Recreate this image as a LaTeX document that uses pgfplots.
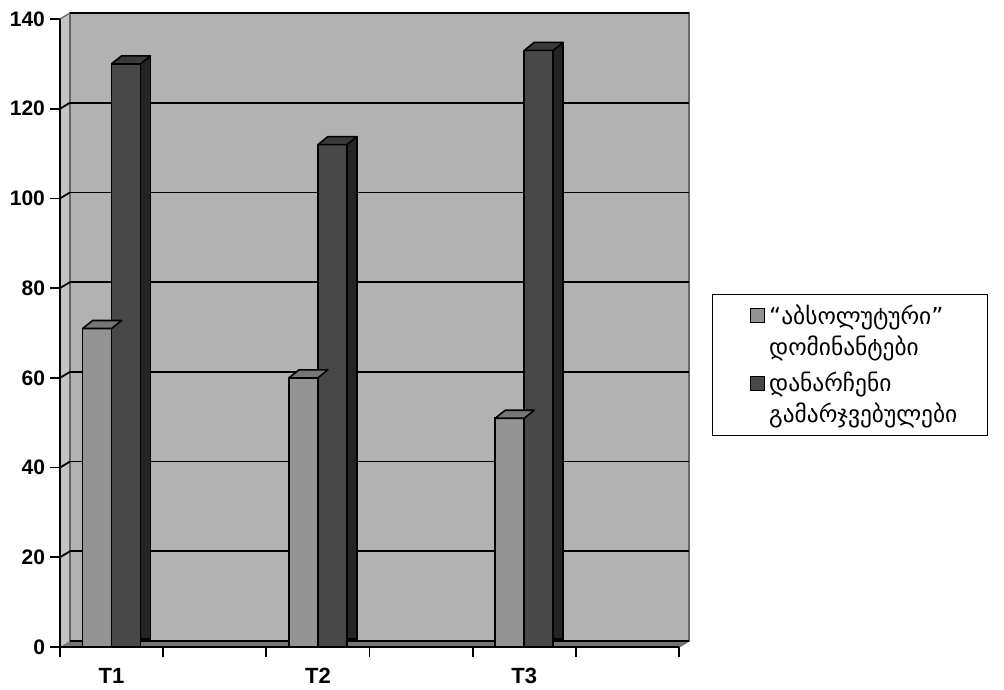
\documentclass[border=0pt]{standalone}
\usepackage{fontspec}
\setmainfont{Liberation Sans}
\newfontfamily\geo{DejaVu Sans}
\usepackage{pgfplots}
\usepackage{pgfplotstable}
\pgfplotsset{compat=1.18}
\definecolor{wall}{RGB}{178,178,178}
\definecolor{sidewall}{RGB}{196,196,196}
\definecolor{floorc}{RGB}{118,118,118}
\definecolor{lightface}{RGB}{148,148,148}
\definecolor{lighttop}{RGB}{118,118,118}
\definecolor{lightside}{RGB}{95,95,95}
\definecolor{darkface}{RGB}{72,72,72}
\definecolor{darktop}{RGB}{58,58,58}
\definecolor{darkside}{RGB}{36,36,36}
\pgfplotstableread{
x light dark
0.5 71 130
2.5 60 112
4.5 51 133
}\datatable
\pgfdeclareplotmark{toplight}{\draw[fill=lighttop,line join=round] (-14.5pt,0pt) -- (0pt,0pt) -- (5pt,4pt) -- (-9.5pt,4pt) -- cycle;}
\pgfdeclareplotmark{topdark}{\draw[fill=darktop,line join=round] (0pt,0pt) -- (14.5pt,0pt) -- (19.5pt,4pt) -- (5pt,4pt) -- cycle;}
\begin{document}
\begin{tikzpicture}
\begin{axis}[
  set layers,
  at={(0pt,0pt)}, anchor=origin,
  scale only axis, width=309.5pt, height=314pt,
  xmin=0, xmax=6, ymin=0, ymax=140,
  axis x line=bottom, axis y line=left,
  axis line style={-, black, line width=0.9pt},
  xtick={0,...,6}, xticklabels={},
  extra x ticks={0.5,2.5,4.5}, extra x tick labels={T1,T2,T3},
  extra x tick style={major tick length=0pt, tick label style={yshift=-7pt, font=\bfseries\fontsize{11}{12}\selectfont}},
  ytick={0,20,...,140},
  tick align=outside, major tick length=5pt,
  tick style={black, line width=0.9pt},
  ymajorgrids,
  major grid style={black, line width=0.9pt, xshift=5pt, yshift=3pt},
  tick label style={font=\bfseries\fontsize{10.5}{12}\selectfont},
  yticklabel style={xshift=1pt},
  /pgf/number format/assume math mode=true,
  legend style={at={(1.0533,0.5621)}, anchor=north west, draw=black, line width=0.6pt,
    font=\geo\fontsize{11.7}{15.5}\selectfont, inner xsep=13pt, inner ysep=3pt, row sep=3pt,
    cells={align=left, anchor=west}},
  legend cell align=left,
  legend image code/.code={\path[draw=none, fill=none] (0pt,0pt) -- (13pt,0pt); \draw[#1, draw=black, line width=0.6pt] (6pt,4.3pt) rectangle (13pt,11.3pt);},
]
\begin{pgfonlayer}{axis background}
  \fill[wall] ([shift={(5pt,3pt)}]axis cs:0,0) rectangle ([shift={(5pt,3pt)}]axis cs:6,140);
  \fill[sidewall] (axis cs:0,0) -- (axis cs:0,140) -- ([shift={(5pt,3pt)}]axis cs:0,140) -- ([shift={(5pt,3pt)}]axis cs:0,0) -- cycle;
  \fill[floorc] (axis cs:0,0) -- (axis cs:6,0) -- ([shift={(5pt,3pt)}]axis cs:6,0) -- ([shift={(5pt,3pt)}]axis cs:0,0) -- cycle;
  \draw[black!60, line width=0.6pt] ([shift={(5pt,3pt)}]axis cs:0,0) rectangle ([shift={(5pt,3pt)}]axis cs:6,140);
  \draw[black!60, line width=0.6pt] (axis cs:0,140) -- ([shift={(5pt,3pt)}]axis cs:0,140);
  \draw[black!60, line width=0.6pt] (axis cs:6,0) -- ([shift={(5pt,3pt)}]axis cs:6,0);
  \pgfplotsinvokeforeach{20,40,60,80,100,120}{
    \draw[black, line width=0.9pt] (axis cs:0,#1) -- ([shift={(5pt,3pt)}]axis cs:0,#1);
  }
\end{pgfonlayer}
% light series
\addplot[ybar, bar width=5pt, bar shift=2.5pt, yshift=4pt, fill=lightside, draw=black, line width=0.8pt, forget plot] table[x=x, y=light] {\datatable};
\addplot[ybar, bar width=14.5pt, bar shift=-7.25pt, fill=lightface, draw=black, line width=0.8pt] table[x=x, y=light] {\datatable};
\addlegendentry{“აბსოლუტური”\\დომინანტები}
\addplot[only marks, mark=toplight, line width=0.8pt, forget plot] table[x=x, y=light] {\datatable};
% dark series
\addplot[ybar, bar width=5pt, bar shift=17pt, yshift=4pt, fill=darkside, draw=black, line width=0.8pt, forget plot] table[x=x, y=dark] {\datatable};
\addplot[ybar, bar width=14.5pt, bar shift=7.25pt, fill=darkface, draw=black, line width=0.8pt] table[x=x, y=dark] {\datatable};
\addlegendentry{დანარჩენი\\გამარჯვებულები}
\addplot[only marks, mark=topdark, line width=0.8pt, forget plot] table[x=x, y=dark] {\datatable};
\end{axis}
\pgfresetboundingbox
\useasboundingbox (-30pt,-21pt) rectangle (472pt,323.5pt);
\end{tikzpicture}
\end{document}
